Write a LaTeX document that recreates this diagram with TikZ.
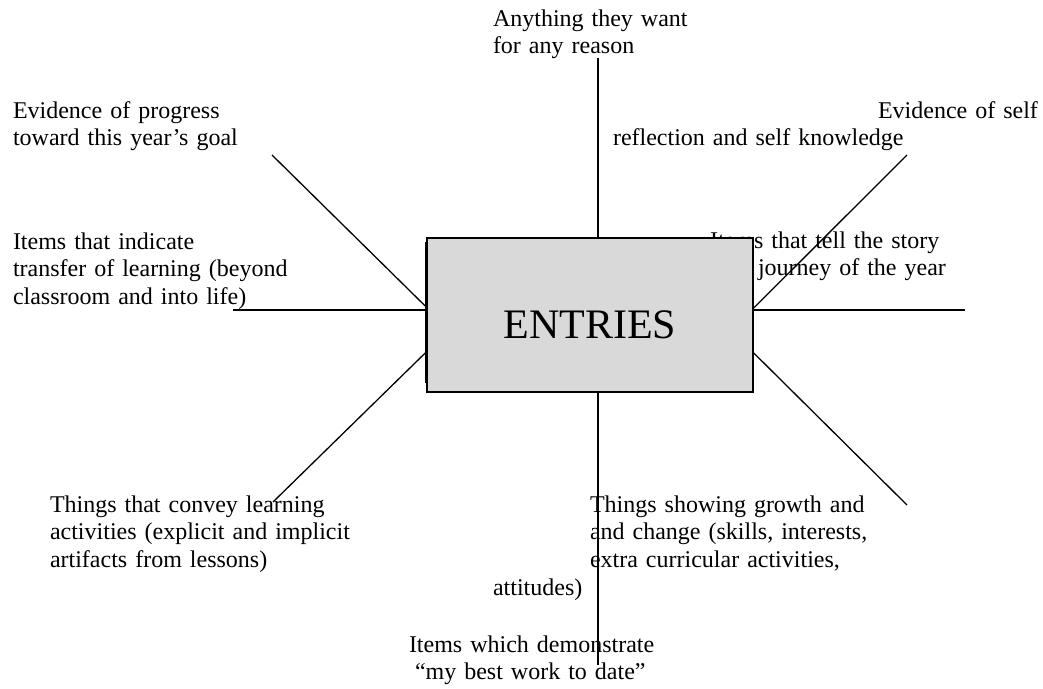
\documentclass[tikz,border=0pt]{standalone}
\usepackage{fontspec}
\setmainfont{Liberation Serif}
\definecolor{boxgray}{HTML}{D9D9D9}
\begin{document}
\begin{tikzpicture}[x=1pt,y=-1pt,
  lbl/.style={anchor=base west, inner sep=0pt, outer sep=0pt, align=left, text width=#1,
              font=\fontsize{24}{27.7}\selectfont},
  spoke/.style={line width=1.3pt, draw=black},
  centrebox/.style={draw=black, fill=boxgray, line width=1.5pt, minimum width=326pt,
              minimum height=154pt, inner sep=0pt, text height=46pt, text depth=0pt,
              font=\fontsize{42}{46}\selectfont}]
\useasboundingbox (0,0) rectangle (1043,688);

% labels
\node[lbl=260pt] (tA) at (493,26) {Anything they want\\for any reason};
\node[lbl=260pt] (tB) at (13,118) {Evidence of progress\\toward this year’s goal};
\node[lbl=440pt] (tC) at (613,118) {\hspace*{265pt}Evidence of self\\reflection and self knowledge};
\node[lbl=330pt] (tD) at (13,249) {Items that indicate\\transfer of learning (beyond\\classroom and into life)};
\node[lbl=300pt] (tE) at (710,248) {Items that tell the story\\\hspace*{48pt}journey of the year};
\node[lbl=330pt] (tF) at (50,512) {Things that convey learning\\activities (explicit and implicit\\artifacts from lessons)};
\node[lbl=320pt] (tG) at (590,512) {Things showing growth and\\and change (skills, interests,\\extra curricular activities,\\\hspace*{-97pt}attitudes)};
\node[lbl=280pt] (tH) at (409,652) {Items which demonstrate\\\hspace*{6pt}“my best work to date”};

% free ends of the spokes
\coordinate (tp) at (598,58);
\coordinate (bt) at (598,665);
\coordinate (ul) at (272,155);
\coordinate (lf) at (233,310);
\coordinate (ll) at (273,502);
\coordinate (ur) at (907,155);
\coordinate (rt) at (965,310);
\coordinate (lr) at (907,505);

% centre box
\node[centrebox] (e) at (590,315) {ENTRIES};

% spokes
\draw[spoke] ([xshift=8pt]e.north) -- (tp);
\draw[spoke] ([xshift=8pt]e.south) -- (bt);
\draw[spoke] ([yshift=8pt]e.west) -- (ul);
\draw[spoke] ([yshift=5pt]e.west) -- (lf);
\draw[spoke] ([yshift=-37pt]e.west) -- (ll);
\draw[spoke] ([yshift=7pt]e.east) -- (ur);
\draw[spoke] ([yshift=5pt]e.east) -- (rt);
\draw[spoke] ([yshift=-38pt]e.east) -- (lr);

% thicker left edge of the box
\draw[line width=2.6pt] ([xshift=-0.3pt,yshift=-5pt]e.north west) -- ([xshift=-0.3pt,yshift=10pt]e.south west);
\end{tikzpicture}
\end{document}
